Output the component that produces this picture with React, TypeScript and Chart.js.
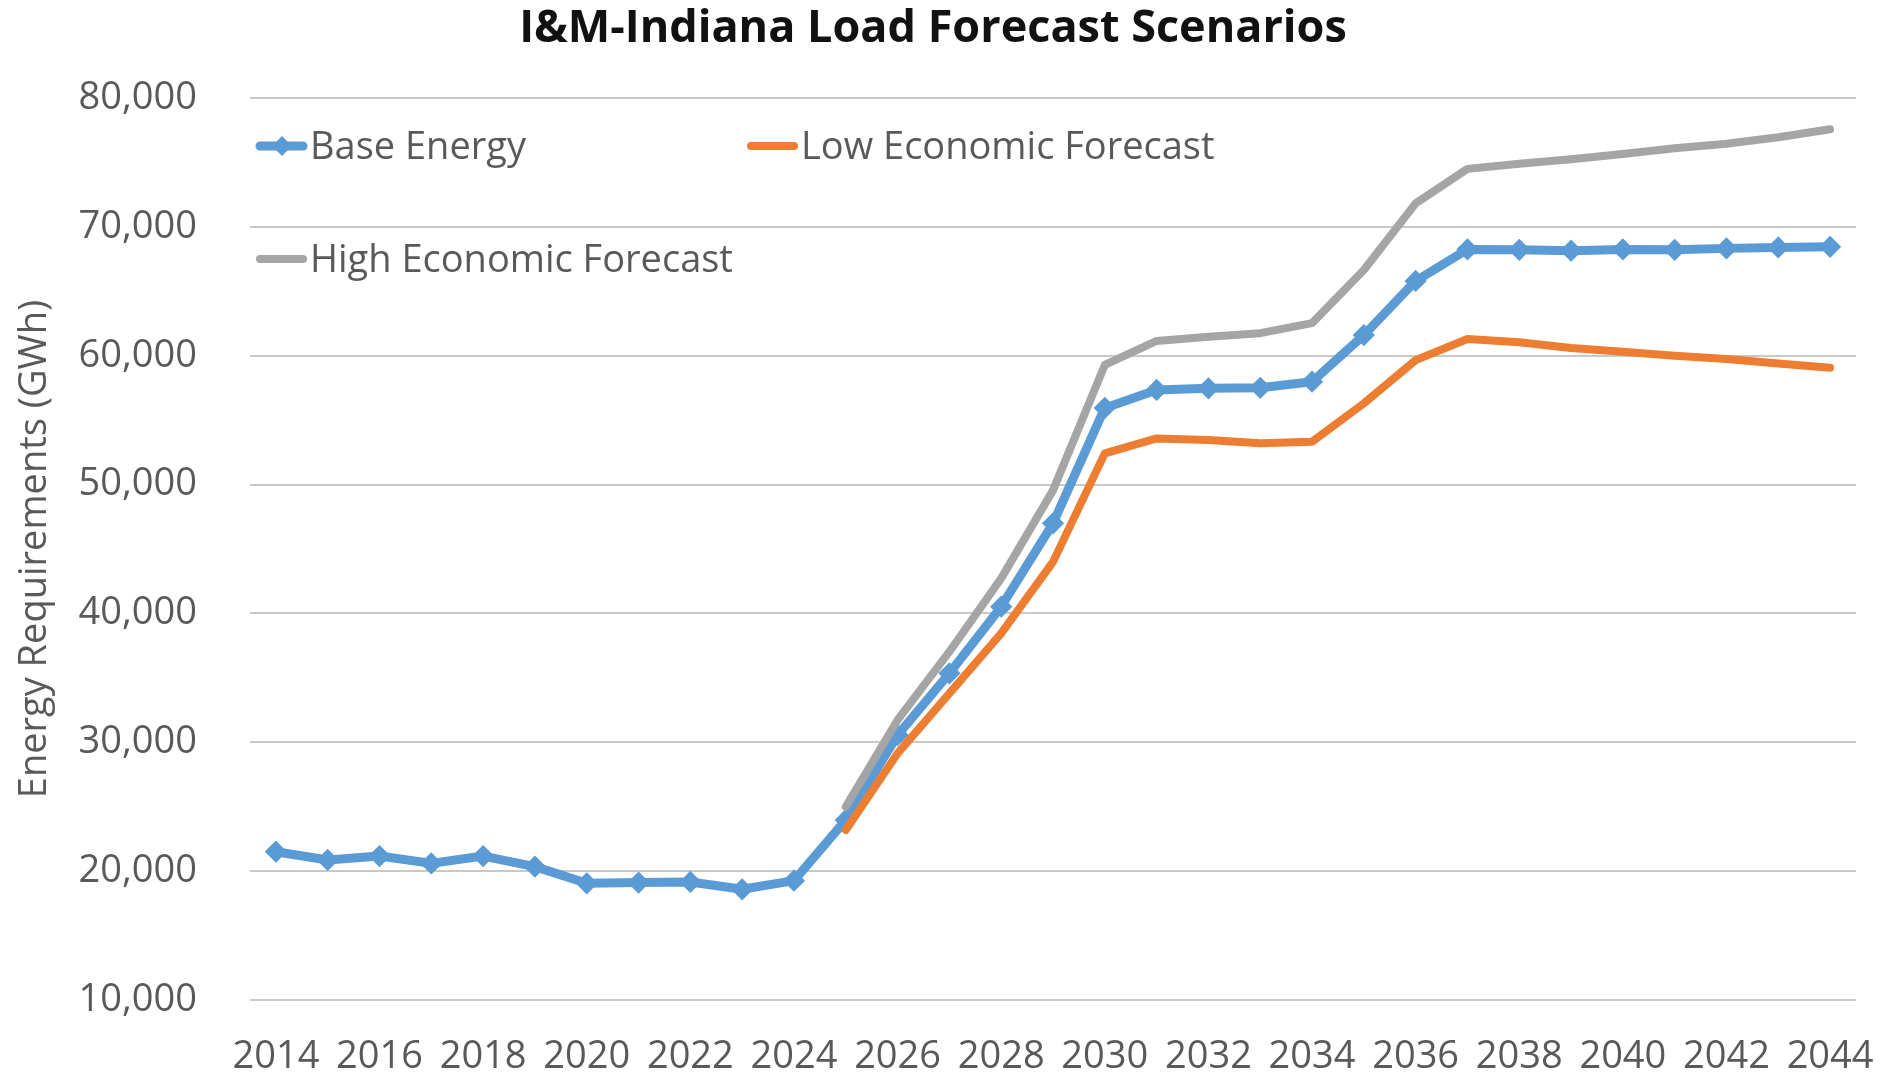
import React, { useEffect, useRef } from 'react';
import { Chart, registerables } from 'chart.js';

Chart.register(...registerables);

const years = [
  '2014', '2015', '2016', '2017', '2018', '2019', '2020', '2021', '2022', '2023', '2024',
  '2025', '2026', '2027', '2028', '2029', '2030', '2031', '2032', '2033', '2034',
  '2035', '2036', '2037', '2038', '2039', '2040', '2041', '2042', '2043', '2044',
];

const baseEnergy = [
  21510, 20870, 21170, 20600, 21170, 20350, 19060, 19110, 19160, 18590, 19260,
  23970, 30560, 35350, 40520, 46990, 55950, 57340, 57470, 57510, 57980,
  61600, 65800, 68250, 68220, 68150, 68250, 68220, 68330, 68400, 68450,
];

const lowEconomic = [
  null, null, null, null, null, null, null, null, null, null, null,
  23190, 29140, 33790, 38450, 44000, 52420, 53580, 53460, 53200, 53330,
  56300, 59660, 61300, 61050, 60600, 60300, 60000, 59750, 59400, 59070,
];

const highEconomic = [
  null, null, null, null, null, null, null, null, null, null, null,
  25000, 31730, 37030, 42720, 49550, 59280, 61150, 61470, 61750, 62530,
  66650, 71820, 74500, 74900, 75250, 75650, 76100, 76450, 76950, 77570,
];

const seriesNames = ['Base Energy', 'Low Economic Forecast', 'High Economic Forecast'];
const seriesColors = ['#5B9BD5', '#ED7D31', '#A5A5A5'];

const yTicks = [10000, 20000, 30000, 40000, 50000, 60000, 70000, 80000];

const FONT = "'Open Sans', 'Noto Sans', sans-serif";
const TEXT_GRAY = '#595959';

const legendPlugin = {
  id: 'excelLegend',
  afterDraw(chart: any) {
    const { ctx, chartArea } = chart;
    const ds = chart.data.datasets;
    const slots = [
      { x: chartArea.left + 6, y: chartArea.top + 48 },
      { x: chartArea.left + 497, y: chartArea.top + 48 },
      { x: chartArea.left + 6, y: chartArea.top + 161 },
    ];
    ctx.save();
    ds.forEach((d: any, i: number) => {
      const s = slots[i];
      if (!s) return;
      const color = d.borderColor;
      ctx.strokeStyle = color;
      ctx.lineWidth = d.borderWidth;
      ctx.lineCap = 'round';
      ctx.beginPath();
      ctx.moveTo(s.x + 4, s.y);
      ctx.lineTo(s.x + 47, s.y);
      ctx.stroke();
      if (d.pointRadius > 0) {
        const cx = s.x + 26;
        const r = d.pointRadius + 1;
        ctx.fillStyle = color;
        ctx.beginPath();
        ctx.moveTo(cx, s.y - r);
        ctx.lineTo(cx + r, s.y);
        ctx.lineTo(cx, s.y + r);
        ctx.lineTo(cx - r, s.y);
        ctx.closePath();
        ctx.fill();
      }
      ctx.fillStyle = TEXT_GRAY;
      ctx.font = `38px ${FONT}`;
      ctx.textBaseline = 'middle';
      ctx.textAlign = 'left';
      ctx.fillText(d.label, s.x + 54, s.y + 2);
    });
    ctx.restore();
  },
};

export default function App() {
  const canvasRef = useRef<HTMLCanvasElement | null>(null);

  useEffect(() => {
    if (!canvasRef.current) return;
    const chart = new Chart(canvasRef.current, {
      type: 'line',
      data: {
        labels: years,
        datasets: [
          {
            label: seriesNames[0],
            data: baseEnergy,
            borderColor: seriesColors[0],
            backgroundColor: seriesColors[0],
            borderWidth: 9,
            pointStyle: 'rectRot',
            pointRadius: 9,
            pointBorderWidth: 3,
            pointBackgroundColor: seriesColors[0],
            pointBorderColor: seriesColors[0],
            borderCapStyle: 'round',
            borderJoinStyle: 'round',
            tension: 0,
            order: 3,
          },
          {
            label: seriesNames[1],
            data: lowEconomic,
            borderColor: seriesColors[1],
            backgroundColor: seriesColors[1],
            borderWidth: 8,
            pointRadius: 0,
            borderCapStyle: 'round',
            borderJoinStyle: 'round',
            tension: 0,
            order: 2,
          },
          {
            label: seriesNames[2],
            data: highEconomic,
            borderColor: seriesColors[2],
            backgroundColor: seriesColors[2],
            borderWidth: 8,
            pointRadius: 0,
            borderCapStyle: 'round',
            borderJoinStyle: 'round',
            tension: 0,
            order: 1,
          },
        ],
      },
      options: {
        responsive: false,
        animation: false,
        layout: { padding: { left: 10, right: 40, top: 0, bottom: 0 } },
        plugins: {
          legend: { display: false },
          tooltip: { enabled: false },
          title: {
            display: true,
            text: 'I&M-Indiana Load Forecast Scenarios',
            color: '#111111',
            font: { family: FONT, size: 45, weight: 'bold', lineHeight: 1.2 },
            padding: { top: 2, bottom: 42 },
          },
        },
        scales: {
          x: {
            type: 'category',
            offset: true,
            grid: { display: false, drawTicks: false },
            border: { display: false },
            ticks: {
              color: TEXT_GRAY,
              font: { family: FONT, size: 38, lineHeight: 1.2 },
              autoSkip: false,
              maxRotation: 0,
              minRotation: 0,
              padding: 34,
              callback: function (this: any, _v: any, idx: number) {
                return idx % 2 === 0 ? years[idx] : '';
              },
            },
            afterFit(scale: any) {
              scale.height = 77;
              scale.paddingLeft = 0;
              scale.paddingRight = 0;
            },
          },
          y: {
            min: yTicks[0],
            max: yTicks[yTicks.length - 1],
            afterBuildTicks(scale: any) {
              scale.ticks = yTicks.map((v) => ({ value: v }));
            },
            grid: { color: '#C9C9C9', lineWidth: 2, drawTicks: false },
            border: { display: false },
            ticks: {
              color: TEXT_GRAY,
              font: { family: FONT, size: 38, lineHeight: 1.2 },
              padding: 53,
              callback: (v: any) => Number(v).toLocaleString('en-US'),
            },
            title: {
              display: true,
              text: 'Energy Requirements (GWh)',
              color: TEXT_GRAY,
              font: { family: FONT, size: 38, lineHeight: 1.2 },
              padding: { top: 2, bottom: 0 },
            },
            afterFit(scale: any) {
              scale.width = 240;
            },
          },
        },
      },
      plugins: [legendPlugin],
    });
    return () => chart.destroy();
  }, []);

  return (
    <div style={{ position: 'absolute', left: 0, top: 0, width: 1896, height: 1077, background: '#fff' }}>
      <canvas ref={canvasRef} width={1896} height={1077} style={{ display: 'block' }} />
    </div>
  );
}
